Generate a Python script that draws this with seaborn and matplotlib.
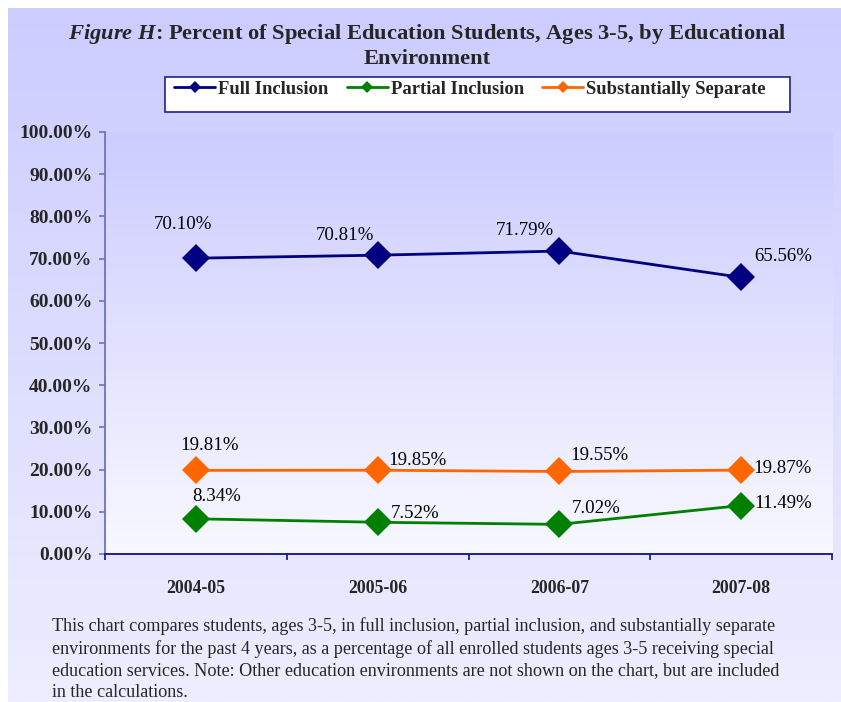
import numpy as np
import pandas as pd
import matplotlib
matplotlib.use("Agg")
import matplotlib.pyplot as plt
from matplotlib.patches import Rectangle
from matplotlib.lines import Line2D
import seaborn as sns

# ---- data ----
years = ["2004-05", "2005-06", "2006-07", "2007-08"]
full_inclusion = [70.10, 70.81, 71.79, 65.56]
partial_inclusion = [8.34, 7.52, 7.02, 11.49]
substantially_separate = [19.81, 19.85, 19.55, 19.87]
series_names = ["Full Inclusion", "Partial Inclusion", "Substantially Separate"]
y_ticks = [0, 10, 20, 30, 40, 50, 60, 70, 80, 90, 100]

colors = {"Full Inclusion": "#000080", "Partial Inclusion": "#008000",
          "Substantially Separate": "#FF6600"}

# label offsets (pixels) per series
offsets = {
    "Full Inclusion": [(-13, 34), (-33, 20), (-35, 21), (42, 21)],
    "Partial Inclusion": [(21, 22), (37, 9), (37, 16), (42, 2)],
    "Substantially Separate": [(14, 25), (40, 10), (40, 16), (41, 2)],
}

df = pd.DataFrame({
    "year": years * 3,
    "value": full_inclusion + partial_inclusion + substantially_separate,
    "series": [series_names[0]] * 4 + [series_names[1]] * 4 + [series_names[2]] * 4,
})

sns.set_theme(style="white")
plt.rcParams["font.family"] = ["Liberation Serif", "DejaVu Serif"]
plt.rcParams["mathtext.fontset"] = "custom"
plt.rcParams["mathtext.it"] = "Liberation Serif:italic:bold"
plt.rcParams["mathtext.rm"] = "Liberation Serif:bold"

W, H = 841, 702
fig = plt.figure(figsize=(W / 100, H / 100), dpi=100, facecolor="white")

# figure background gradient (with thin white margin top/left)
bg = fig.add_axes([8 / W, 0, 1 - 8 / W, 1 - 8 / H], zorder=-10)
grad = np.linspace(0, 1, 256).reshape(-1, 1)
top_c = np.array([204, 204, 255]) / 255
bot_c = np.array([238, 238, 255]) / 255
img = top_c[None, None, :] * (1 - grad[:, :, None]) + bot_c[None, None, :] * grad[:, :, None]
bg.imshow(img, aspect="auto", extent=[0, 1, 0, 1])
bg.set_xlim(0, 1)
bg.set_ylim(0, 1)
bg.set_axis_off()

left, right, top, bottom = 105, 832, 132, 554
ax = fig.add_axes([left / W, 1 - bottom / H, (right - left) / W, (bottom - top) / H])
ax.set_facecolor("none")

# plot area gradient
top_p = np.array([204, 204, 255]) / 255
bot_p = np.array([248, 248, 255]) / 255
img2 = top_p[None, None, :] * (1 - grad[:, :, None]) + bot_p[None, None, :] * grad[:, :, None]
ax.imshow(img2, aspect="auto", extent=[0, 1, 0, 1], transform=ax.transAxes, zorder=0)

sns.lineplot(data=df, x="year", y="value", hue="series", palette=colors,
             marker="D", markersize=14.5, markeredgewidth=0, linewidth=2,
             sort=False, ax=ax, legend=False, zorder=3)

ax.set_xlim(-0.5, 3.5)
ax.set_ylim(0, 100)
ax.set_xlabel("")
ax.set_ylabel("")

# data labels
vals = {"Full Inclusion": full_inclusion, "Partial Inclusion": partial_inclusion,
        "Substantially Separate": substantially_separate}
for s in series_names:
    for i, v in enumerate(vals[s]):
        dx, dy = offsets[s][i]
        ax.annotate(f"{v:.2f}%", (i, v), xytext=(dx * 0.72, dy * 0.72),
                    textcoords="offset points", ha="center", va="center",
                    fontsize=13.6, color="black", zorder=5)

# axes styling
for sp in ["top", "right"]:
    ax.spines[sp].set_visible(False)
ax.spines["left"].set_color("#7070C8")
ax.spines["left"].set_linewidth(1.3)
ax.spines["bottom"].set_color("#101090")
ax.spines["bottom"].set_linewidth(1.3)

ax.set_yticks(y_ticks)
ax.set_yticklabels([f"{t:.2f}%" for t in y_ticks], fontsize=14, fontweight="bold")
ax.tick_params(axis="y", which="major", left=True, length=4, width=1.2,
               color="#7070C8", pad=5)
ax.set_xticks(range(len(years)))
ax.set_xticklabels(years, fontsize=12.8, fontweight="bold")
ax.tick_params(axis="x", which="major", bottom=False, length=0, pad=19)
ax.set_xticks([-0.5, 0.5, 1.5, 2.5, 3.5], minor=True)
ax.tick_params(axis="x", which="minor", bottom=True, length=4, width=1.2,
               color="#101090")

# title
fig.text(427 / W, 1 - 34 / H,
         r"$\mathit{Figure\ H}$: Percent of Special Education Students, Ages 3-5, by Educational",
         ha="center", va="center", fontsize=16.2, fontweight="bold")
fig.text(427 / W, 1 - 59 / H, "Environment", ha="center", va="center",
         fontsize=16.2, fontweight="bold")

# legend box
fig.patches.append(Rectangle((165 / W, 1 - 112 / H), (790 - 165) / W, 35 / H,
                             transform=fig.transFigure, facecolor="white",
                             edgecolor="#202090", linewidth=1.2, zorder=1))
handles = [Line2D([], [], color=colors[s], marker="D", markersize=6, linewidth=2,
                  markeredgewidth=0) for s in series_names]
leg = fig.legend(handles, series_names, loc="center", bbox_to_anchor=(470 / W, 1 - 89 / H),
                 ncol=3, frameon=False, handlelength=2.2, handletextpad=0.15,
                 columnspacing=1.0, prop={"weight": "bold", "size": 13.4})
leg.set_zorder(2)

# footer
footer_lines = [
    "This chart compares students, ages 3-5, in full inclusion, partial inclusion, and substantially separate",
    "environments for the past 4 years, as a percentage of all enrolled students ages 3-5 receiving special",
    "education services. Note: Other education environments are not shown on the chart, but are included",
    "in the calculations.",
]
fig.text(52 / W, 1 - 617 / H, "\n".join(footer_lines), ha="left", va="top", fontsize=13.1,
         linespacing=1.36)

fig.savefig("out.png", dpi=100)
